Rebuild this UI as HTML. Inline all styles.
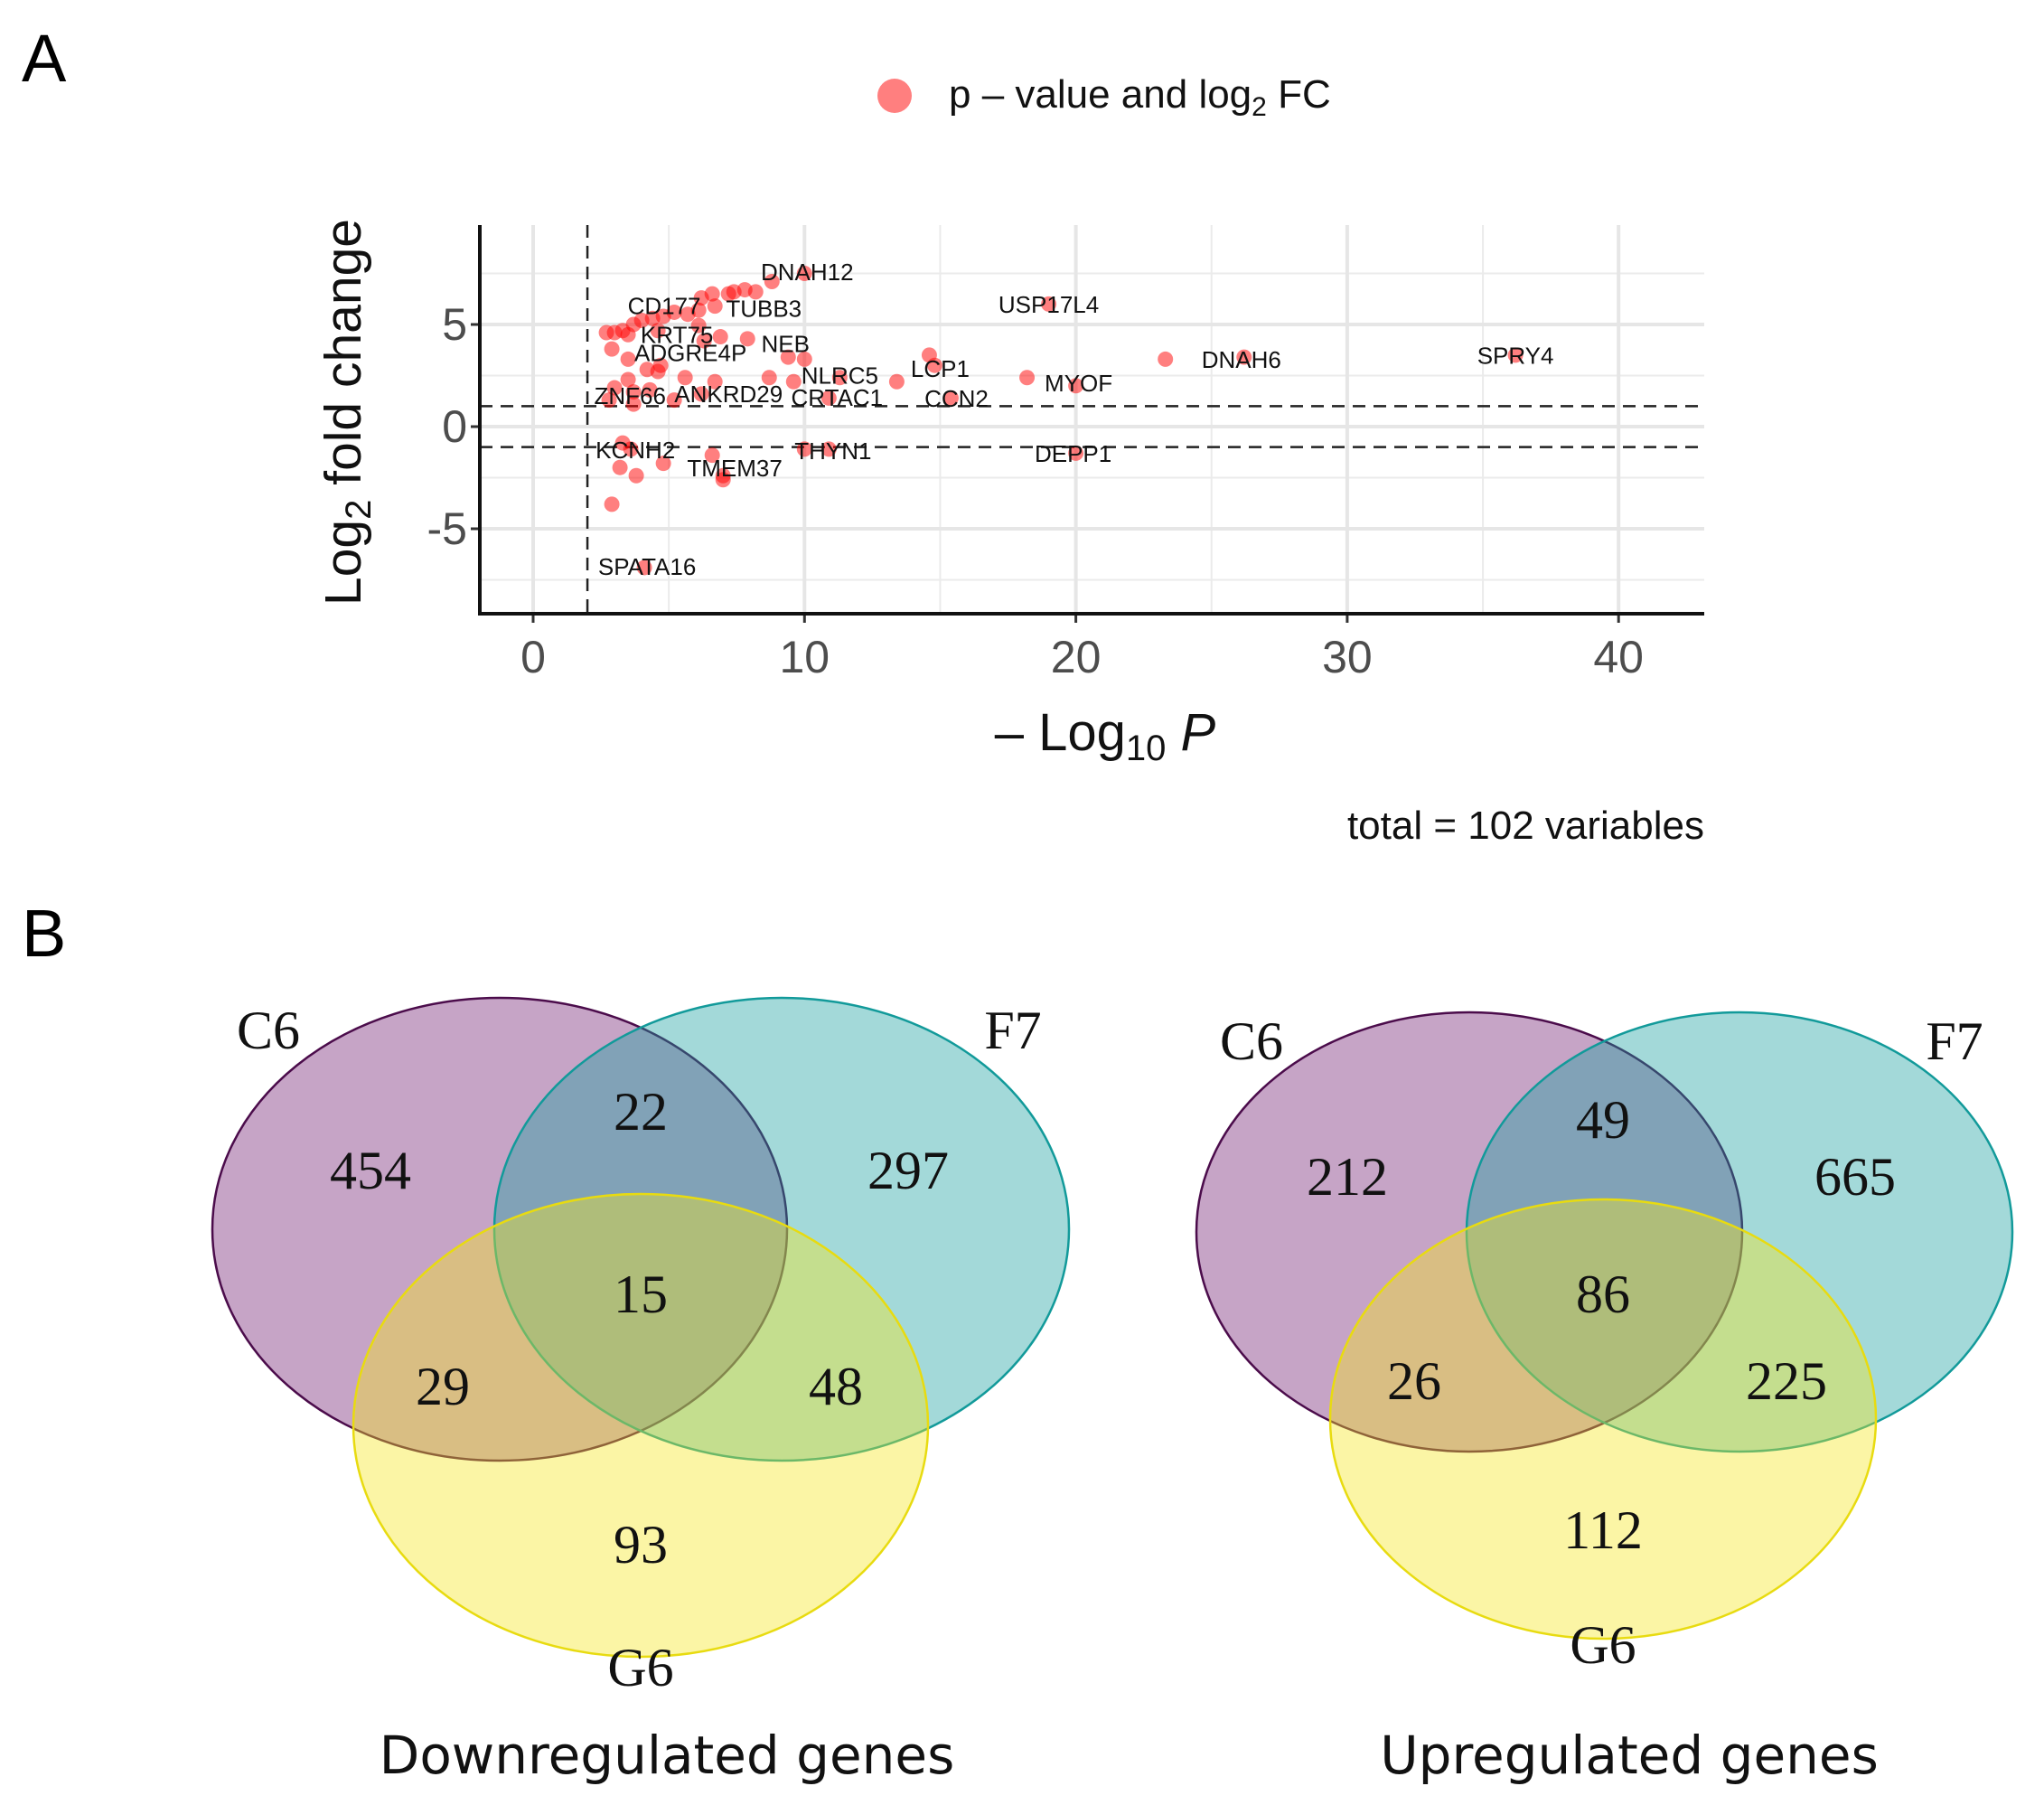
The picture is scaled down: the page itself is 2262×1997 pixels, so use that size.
<!DOCTYPE html>
<html><head><meta charset="utf-8"><style>
html,body{margin:0;padding:0;background:#fff}
svg{display:block}
</style></head><body>
<svg width="2262" height="1997" viewBox="0 0 2262 1997" xmlns="http://www.w3.org/2000/svg" font-family="Liberation Sans, sans-serif">
<text x="24" y="90" font-size="74">A</text>
<text x="24" y="1058" font-size="74">B</text>
<g>
<circle cx="990" cy="106" r="19" fill="#ff0000" fill-opacity="0.5"/>
<text x="1050" y="119" font-size="44" fill="#111">p – value and log<tspan font-size="30" dy="9">2</tspan><tspan dy="-9"> FC</tspan></text>
</g>
<g id="volcano"></g>
<text x="1886" y="928" font-size="44" text-anchor="end" fill="#111">total = 102 variables</text>

<g>
<ellipse cx="553" cy="1360" rx="318" ry="256" fill="rgb(112,27,112)" fill-opacity="0.4" stroke="#4b0c4b" stroke-width="2.5"/>
<ellipse cx="865" cy="1360" rx="318" ry="256" fill="rgb(25,160,160)" fill-opacity="0.4" stroke="#129a9a" stroke-width="2.5"/>
<ellipse cx="709" cy="1577" rx="318" ry="256" fill="rgb(245,230,30)" fill-opacity="0.4" stroke="#e8db10" stroke-width="2.5"/>
<g font-family="Liberation Serif, serif" font-size="60" text-anchor="middle" fill="#111">
<text x="410" y="1315">454</text>
<text x="709" y="1250">22</text>
<text x="1005" y="1315">297</text>
<text x="709" y="1452">15</text>
<text x="490" y="1554">29</text>
<text x="925" y="1554">48</text>
<text x="709" y="1729">93</text>
<text x="297" y="1160">C6</text>
<text x="1121" y="1160">F7</text>
<text x="709" y="1865">G6</text>
</g>
<text x="738" y="1962" font-family="DejaVu Sans, sans-serif" font-size="58" text-anchor="middle" fill="#111">Downregulated genes</text>
</g>

<g>
<ellipse cx="1626" cy="1363" rx="302" ry="243" fill="rgb(112,27,112)" fill-opacity="0.4" stroke="#4b0c4b" stroke-width="2.5"/>
<ellipse cx="1925" cy="1363" rx="302" ry="243" fill="rgb(25,160,160)" fill-opacity="0.4" stroke="#129a9a" stroke-width="2.5"/>
<ellipse cx="1774" cy="1570" rx="302" ry="243" fill="rgb(245,230,30)" fill-opacity="0.4" stroke="#e8db10" stroke-width="2.5"/>
<g font-family="Liberation Serif, serif" font-size="60" text-anchor="middle" fill="#111">
<text x="1491" y="1322">212</text>
<text x="1774" y="1259">49</text>
<text x="2053" y="1322">665</text>
<text x="1774" y="1452">86</text>
<text x="1565" y="1548">26</text>
<text x="1977" y="1548">225</text>
<text x="1774" y="1713">112</text>
<text x="1385" y="1172">C6</text>
<text x="2163" y="1172">F7</text>
<text x="1774" y="1840">G6</text>
</g>
<text x="1803" y="1962" font-family="DejaVu Sans, sans-serif" font-size="58" text-anchor="middle" fill="#111">Upregulated genes</text>
</g>
</svg>
<script>
const xs = [10.0,8.8,8.2,7.8,7.4,7.2,6.6,6.2,6.7,6.1,5.7,5.2,4.8,4.4,4.0,3.7,3.3,3.0,2.7,3.5,4.6,6.1,6.9,6.3,7.9,2.9,3.5,4.2,4.7,4.6,5.6,3.5,6.7,8.7,9.4,10.0,9.6,11.3,13.4,14.6,14.8,3.0,3.7,4.3,2.8,3.7,5.2,6.2,10.9,15.4,3.3,3.6,10.0,10.9,6.6,4.8,3.2,3.8,7.0,7.0,2.9,4.1,19.0,23.3,26.2,36.2,18.2,20.0,20.0];
const ys = [7.5,7.1,6.6,6.7,6.6,6.5,6.5,6.3,5.9,5.7,5.5,5.6,5.4,5.3,5.2,5.0,4.7,4.6,4.6,4.5,4.7,4.95,4.4,4.2,4.3,3.8,3.3,2.8,3.0,2.7,2.4,2.3,2.2,2.4,3.4,3.3,2.2,2.4,2.2,3.5,3.0,1.9,1.7,1.8,1.3,1.1,1.3,1.6,1.4,1.4,-0.8,-1.1,-1.1,-1.1,-1.4,-1.8,-2.0,-2.4,-2.4,-2.6,-3.8,-6.9,6.0,3.3,3.4,3.5,2.4,2.0,-1.3];
const labels = ["DNAH12","CD177","TUBB3","USP17L4","KRT75","NEB","ADGRE4P","DNAH6","SPRY4","LCP1","NLRC5","MYOF","ANKRD29","ZNF66","CRTAC1","CCN2","KCNH2","THYN1","DEPP1","TMEM37","SPATA16"];
const labelX = [10.1,4.83,8.5,19.0,5.3,9.3,5.8,26.1,36.2,15.0,11.3,20.1,7.2,3.57,11.2,15.6,3.77,11.05,19.9,7.43,4.2];
const labelY = [7.57,5.9,5.78,5.97,4.5,4.04,3.6,3.27,3.47,2.83,2.5,2.12,1.6,1.5,1.42,1.37,-1.15,-1.2,-1.33,-2.04,-6.85];
const xTicks = [0,10,20,30,40];
const yTicks = [-5,0,5];
const yMinor = [-7.5,-2.5,2.5,7.5];
const xMinor = [5,15,25,35];

const NS="http://www.w3.org/2000/svg";
const g=document.getElementById('volcano');
const L=531,R=1886,T=249,B=679;
const sx=v=>590+v*30.03;
const sy=v=>472-v*22.6;
function mk(tag,attrs){const e=document.createElementNS(NS,tag);for(const k in attrs)e.setAttribute(k,attrs[k]);g.appendChild(e);return e;}
xMinor.forEach(v=>{const e=mk('line',{x1:sx(v),x2:sx(v),y1:T,y2:B,stroke:'#ebebeb','stroke-width':2});

});
yMinor.forEach(v=>{const e=mk('line',{x1:L,x2:R,y1:sy(v),y2:sy(v),stroke:'#ebebeb','stroke-width':2});

});
xTicks.forEach(v=>{const e=mk('line',{x1:sx(v),x2:sx(v),y1:T,y2:B,stroke:'#e6e6e6','stroke-width':4});


const t=mk('line',{x1:sx(v),x2:sx(v),y1:B,y2:B+10,stroke:'#333','stroke-width':3});


const l=mk('text',{x:sx(v),y:B+65,'font-size':50,'text-anchor':'middle',fill:'#4d4d4d'});l.textContent=v;

});
yTicks.forEach(v=>{const e=mk('line',{x1:L,x2:R,y1:sy(v),y2:sy(v),stroke:'#e6e6e6','stroke-width':4});


const t=mk('line',{x1:L-10,x2:L,y1:sy(v),y2:sy(v),stroke:'#333','stroke-width':3});


const l=mk('text',{x:L-14,y:sy(v)+17,'font-size':50,'text-anchor':'end',fill:'#4d4d4d'});l.textContent=v;

});
[[sx(2),sx(2),T,B],[L,R,sy(1),sy(1)],[L,R,sy(-1),sy(-1)]].forEach(a=>{const e=mk('line',{x1:a[0],x2:a[1],y1:a[2],y2:a[3],stroke:'#222','stroke-width':2.5,'stroke-dasharray':'14,9'});

});
xs.forEach((v,i)=>{const c=mk('circle',{cx:sx(v),cy:sy(ys[i]),r:8.5,fill:'#ff0000','fill-opacity':0.5});

});
labels.forEach((s,i)=>{const t=mk('text',{x:sx(labelX[i]),y:sy(labelY[i])+9,'font-size':26,'text-anchor':'middle',fill:'#111'});t.textContent=s;

});
const ax=mk('path',{d:`M${L},${T} L${L},${B} L${R},${B}`,fill:'none',stroke:'#111','stroke-width':4});


const yt=mk('text',{x:0,y:0,'font-size':57,'text-anchor':'middle',fill:'#111',transform:'translate(399,456) rotate(-90)'});
yt.innerHTML='Log<tspan font-size="40" dy="11">2</tspan><tspan dy="-11"> fold change</tspan>';


const xt=mk('text',{x:1223,y:830,'font-size':58,'text-anchor':'middle',fill:'#111'});
xt.innerHTML='– Log<tspan font-size="40" dy="11">10</tspan><tspan dy="-11" font-style="italic"> P</tspan>';


</script>
</body></html>
